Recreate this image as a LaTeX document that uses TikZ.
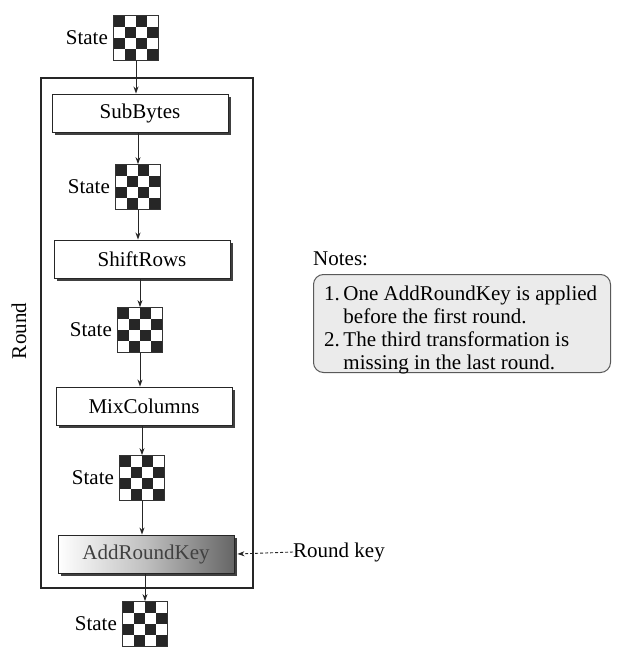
\documentclass[tikz,border=0pt]{standalone}
\usepackage{fontspec}
\setmainfont{Liberation Serif}
\usetikzlibrary{arrows.meta,shadows,calc}
\tikzset{
  txt/.style={font=\fontsize{21}{23}\selectfont, inner sep=0pt},
  gridnode/.style={draw=black!80, line width=0.8pt, minimum width=45pt, minimum height=45pt, inner sep=0pt,
    path picture={
      \foreach \i in {0,...,3}{\foreach \j in {0,...,3}{
        \pgfmathtruncatemacro\kk{mod(\i+\j,2)}
        \ifnum\kk=0
          \fill[black!85] ($(path picture bounding box.north west)+(\i*11.25pt,-\j*11.25pt)$) rectangle ++(11.25pt,-11.25pt);
        \fi}}}},
  stepbox/.style={draw=black!85, line width=0.9pt, fill=white, minimum width=176pt, minimum height=38pt,
    font=\fontsize{21}{23}\selectfont,
    drop shadow={shadow xshift=3pt, shadow yshift=-3pt, fill=black!75, opacity=1}},
  flow/.style={draw=black!85, line width=0.9pt, -{Stealth[length=7pt,width=5pt]}},
}
\begin{document}
\begin{tikzpicture}[x=1pt,y=-1pt]
\useasboundingbox (0,0) rectangle (619,647);
% outer round box
\draw[black!85, line width=1.6pt] (41,78) rectangle (253,588);
\node[txt, rotate=90] (roundlbl) at (19,331) {Round};

% states and steps
\node[gridnode] (g1) at (136,38) {};
\node[txt, anchor=east] (s1) at ([xshift=-5pt]g1.west) {State};
\node[stepbox] (b1) at (140,113) {SubBytes};
\node[gridnode] (g2) at (138,187) {};
\node[txt, anchor=east] (s2) at ([xshift=-5pt]g2.west) {State};
\node[stepbox] (b2) at (142,259) {ShiftRows};
\node[gridnode] (g3) at (140,330) {};
\node[txt, anchor=east] (s3) at ([xshift=-5pt]g3.west) {State};
\node[stepbox] (b3) at (144,406) {MixColumns};
\node[gridnode] (g4) at (142,478) {};
\node[txt, anchor=east] (s4) at ([xshift=-5pt]g4.west) {State};
\node[stepbox, left color=white, right color=black!60, middle color=black!25] (b4) at (146,554) {\textcolor{black!75}{AddRoundKey}};
\node[gridnode] (g5) at (145,624) {};
\node[txt, anchor=east] (s5) at ([xshift=-5pt]g5.west) {State};

\draw[flow] (g1.south) -- (g1.south |- b1.north);
\draw[flow] (b1.south -| g2.north) -- (g2.north);
\draw[flow] (g2.south) -- (g2.south |- b2.north);
\draw[flow] (b2.south -| g3.north) -- (g3.north);
\draw[flow] (g3.south) -- (g3.south |- b3.north);
\draw[flow] (b3.south -| g4.north) -- (g4.north);
\draw[flow] (g4.south) -- (g4.south |- b4.north);
\draw[flow] (b4.south -| g5.north) -- (g5.north);

% round key
\node[txt, anchor=west] (rk) at (293,552) {Round key};
\draw[black!85, line width=0.9pt, dash pattern=on 3pt off 2pt, -{Stealth[length=7pt,width=5pt]}] (rk.west) -- ([xshift=3pt]b4.east);

% notes
\node[txt, anchor=west] (notes) at (313,259) {Notes:};
\node[draw=black!65, line width=1pt, fill=black!8, rounded corners=10pt, anchor=north west,
      minimum width=297pt, minimum height=98pt, inner sep=0pt] (nbox) at (313,274) {};
\node[txt, anchor=north west, align=left] (ntext) at ([xshift=11pt,yshift=-10pt]nbox.north west)
  {\begin{tabular}{@{}l@{\,}l@{}}
   1. & One AddRoundKey is applied\\
      & before the first round.\\
   2. & The third transformation is\\
      & missing in the last round.
   \end{tabular}};
\end{tikzpicture}
\end{document}
